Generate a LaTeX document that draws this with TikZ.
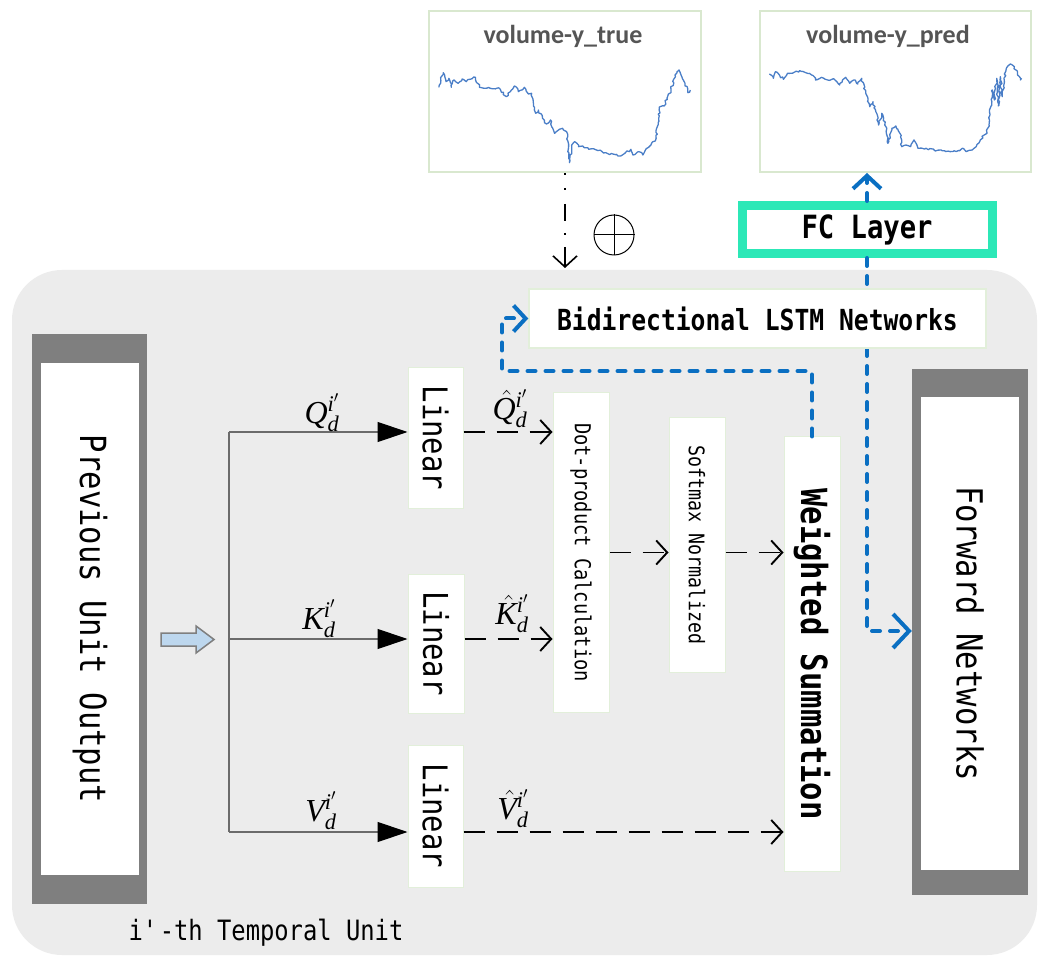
\documentclass[tikz,border=0pt]{standalone}
\usepackage{fix-cm}
\usepackage{amsmath}
\usepackage{fontspec}
\usetikzlibrary{arrows.meta,decorations.pathmorphing}

\newfontfamily\heimono[FakeStretch=0.85]{DejaVu Sans Mono}
\newfontfamily\timesf{Liberation Serif}
\newfontfamily\chartfont{Carlito}
\newcommand\tv[1]{\text{\timesf\itshape #1}}
% hatted variable whose hat does not lift the indices
\newcommand\hv[1]{\rlap{\kern2.5pt$\hat{\phantom{\tv{#1}}}$}\tv{#1}}

\definecolor{bggray}{HTML}{ECECEC}
\definecolor{boxedge}{HTML}{E2EFDA}
\definecolor{chartedge}{HTML}{D9E8CF}
\definecolor{framegray}{HTML}{7F7F7F}
\definecolor{fcgreen}{HTML}{2CE8B7}
\definecolor{flowblue}{HTML}{0A6FC2}
\definecolor{plotblue}{HTML}{4A7EC7}
\definecolor{titlegray}{HTML}{555555}
\definecolor{arrowfill}{HTML}{BDD7EE}
\definecolor{wiregray}{HTML}{6B6B6B}

\begin{document}
\begin{tikzpicture}[x=1pt,y=-1pt,
  wbox/.style={draw=boxedge, line width=1pt, fill=white, inner sep=0pt},
  chartbox/.style={draw=chartedge, line width=2pt, fill=white, inner sep=0pt},
  charttitle/.style={font={\chartfont\bfseries\fontsize{26pt}{26pt}\selectfont}, text=titlegray, inner sep=0pt},
  mono/.style={font={\heimono\fontsize{#1}{#1}\selectfont}},
  monob/.style={font={\heimono\bfseries\fontsize{#1}{#1}\selectfont}},
  varlabel/.style={inner sep=0pt, font={\fontsize{32pt}{32pt}\selectfont}},
  wire/.style={draw=wiregray, line width=1.2pt},
  wirearrow/.style={wire, -{Triangle[length=30pt,width=20pt,color=black]}},
  dasharrow/.style={draw=black, line width=1.9pt, dash pattern=on 21pt off 12pt,
    -{Straight Barb[length=11pt,width=24pt]}},
  blueflow/.style={draw=flowblue, line width=4pt, line cap=round, dash pattern=on 8pt off 10pt},
  plotline/.style={draw=plotblue, line width=1.3pt, line join=round,
    decorate, decoration={random steps, segment length=2.2pt, amplitude=1.1pt}}
]
\pgfmathsetseed{7}
\useasboundingbox (0,0) rectangle (1042,957);
\fill[white] (0,0) rectangle (1042,957);

% temporal unit background
\fill[bggray, rounded corners=50pt] (12,270) rectangle (1037,955);

% the two series panels
\node[chartbox, minimum width=272pt, minimum height=161pt] (chartT) at (565,91.5) {};
\node[charttitle] (titleT) at (563,36) {volume-y\_true};
\node[chartbox, minimum width=271pt, minimum height=161pt] (chartP) at (895.5,91.5) {};
\node[charttitle] (titleP) at (888,36) {volume-y\_pred};

\begin{scope}[shift={(420pt,0pt)}, x=0.4016pt, y=-0.3333pt]
\draw[plotline] (47,262)--(58,218)--(65,245)--(72,235)--(78,262)--(85,240)--(95,250)--(105,237)--(115,245)--(125,238)--(138,232)--(148,262)--(160,265)--(175,265)--(190,265)--(200,268)--(215,290)--(225,275)--(235,258)--(245,275)--(260,262)--(270,282)--(278,280)--(288,340)--(295,330)--(305,355)--(315,372)--(325,360)--(335,400)--(345,390)--(355,385)--(365,395)--(372,488)--(378,440)--(385,425)--(395,440)--(405,438)--(420,448)--(440,450)--(460,458)--(480,462)--(500,468)--(510,460)--(525,448)--(530,465)--(545,455)--(555,465)--(565,445)--(575,435)--(588,415)--(598,320)--(608,318)--(615,295)--(625,270)--(635,225)--(645,210)--(650,225)--(660,250)--(667,278)--(673,270);
\draw[plotline] (870,222)--(880,235)--(885,215)--(895,225)--(905,238)--(915,220)--(930,218)--(945,212)--(960,218)--(975,225)--(985,240)--(1000,232)--(1015,240)--(1030,236)--(1045,255)--(1060,232)--(1070,250)--(1080,240)--(1090,252)--(1100,235)--(1110,280)--(1120,320)--(1128,305)--(1135,335)--(1142,375)--(1150,340)--(1158,370)--(1165,430)--(1175,385)--(1185,378)--(1195,400)--(1200,440)--(1210,435)--(1222,440)--(1230,420)--(1240,445)--(1260,445)--(1280,450)--(1300,452)--(1320,455)--(1340,452)--(1350,445)--(1360,455)--(1375,450)--(1385,440)--(1395,420)--(1405,405)--(1412,400)--(1418,360)--(1425,270)--(1430,300)--(1436,235)--(1440,318)--(1445,230)--(1450,290)--(1455,240)--(1460,205)--(1470,192)--(1480,200)--(1488,225)--(1495,240)--(1498,235);
\end{scope}

% true series fed into the unit
\coordinate (addin) at (565,268);
\draw[line width=1.6pt, dash pattern=on 2pt off 13pt on 2pt off 14pt on 17pt off 12pt on 2pt off 12pt on 30pt,
  -{Straight Barb[length=11pt,width=24pt]}] (chartT.south) -- (addin);
\node[circle, draw=black, line width=1pt, minimum size=40pt, inner sep=0pt] (oplus) at (614,235) {};
\draw[line width=1pt] (oplus.north) -- (oplus.south) (oplus.west) -- (oplus.east);

% fully connected output layer
\node[draw=fcgreen, line width=9pt, fill=white, minimum width=250pt, minimum height=48pt, inner sep=0pt,
  monob=32pt] (fc) at (867,229.5) {FC Layer};

% previous unit and forward networks
\node[fill=framegray, minimum width=115pt, minimum height=570pt, inner sep=0pt] (prev) at (89.5,619) {};
\node[fill=white, minimum width=98pt, minimum height=512pt, inner sep=0pt, mono=36pt] (prevtext) at (90,619)
  {\rotatebox{-90}{Previous Unit Output}};
\node[fill=framegray, minimum width=116pt, minimum height=526pt, inner sep=0pt] (fwd) at (970,632) {};
\node[fill=white, minimum width=98pt, minimum height=473pt, inner sep=0pt, mono=36pt] (fwdtext) at (970,633.5)
  {\rotatebox{-90}{Forward Networks}};

% FC layer links
\draw[blueflow, -{Straight Barb[length=13pt,width=28pt]}] (fc.north) -- (fc.north |- chartP.south);
\coordinate (turn) at (867,631);
\draw[blueflow, -{Straight Barb[length=16pt,width=34pt]}] (fc.south) -- (turn) -- (turn -| fwd.west);

% bidirectional LSTM
\node[wbox, line width=1.5pt, minimum width=457pt, minimum height=59pt, monob=29pt] (lstm) at (757.5,318.5)
  {Bidirectional LSTM Networks};

% attention blocks
\node[wbox, minimum width=55pt, minimum height=140pt, mono=34pt] (linQ) at (435.5,438) {\rotatebox{-90}{Linear}};
\node[wbox, minimum width=56pt, minimum height=139pt, mono=34pt] (linK) at (436,643.5) {\rotatebox{-90}{Linear}};
\node[wbox, minimum width=55pt, minimum height=142pt, mono=34pt] (linV) at (435.5,816) {\rotatebox{-90}{Linear}};
\node[wbox, minimum width=56pt, minimum height=319pt, mono=22pt] (dot) at (581,552.5) {\rotatebox{-90}{Dot-product Calculation}};
\node[wbox, minimum width=56pt, minimum height=254pt, mono=21.5pt] (soft) at (697,545) {\rotatebox{-90}{Softmax Normalized}};
\node[wbox, minimum width=56pt, minimum height=434pt, monob=36pt] (wsum) at (812,654) {\rotatebox{-90}{Weighted Summation}};

% input split into Q, K, V
\fill[arrowfill, draw=framegray, line width=1.5pt]
  (161,633) -- (196,633) -- (196,626) -- (214,639.5) -- (196,653) -- (196,646) -- (161,646) -- cycle;
\coordinate (qin) at (229,432);
\coordinate (kin) at (229,639);
\coordinate (vin) at (229,832);
\draw[wire] (qin) -- (vin);
\draw[wirearrow] (qin) -- (qin -| linQ.west);
\draw[wirearrow] (kin) -- (kin -| linK.west);
\draw[wirearrow] (vin) -- (vin -| linV.west);
\node[varlabel] (lq) at (322,413) {$\tv{Q}_{\tv{d}}^{\tv{i}'}$};
\node[varlabel] (lk) at (319,619) {$\tv{K}_{\tv{d}}^{\tv{i}'}$};
\node[varlabel] (lv) at (321,811) {$\tv{V}_{\tv{d}}^{\tv{i}'}$};

% projected streams
\draw[dasharrow] (qin -| linQ.east) -- (qin -| dot.west);
\draw[dasharrow] (kin -| linK.east) -- (kin -| dot.west);
\draw[dasharrow] (vin -| linV.east) -- (vin -| wsum.west);
\node[varlabel] (lqh) at (510,409) {$\hv{Q}_{\tv{d}}^{\tv{i}'}$};
\node[varlabel] (lkh) at (512,614) {$\hv{K}_{\tv{d}}^{\tv{i}'}$};
\node[varlabel] (lvh) at (513,809) {$\hv{V}_{\tv{d}}^{\tv{i}'}$};
\draw[dasharrow] (dot.east) -- (dot.east -| soft.west);
\draw[dasharrow] (dot.east -| soft.east) -- (dot.east -| wsum.west);

% weighted summation into the LSTM
\coordinate (loopc) at (502,371);
\draw[blueflow, -{Straight Barb[length=12pt,width=26pt]}] (wsum.north) |- (loopc) |- (lstm.west);

\node[mono=28pt, inner sep=0pt] (unitname) at (266,933) {i\textquotesingle-th Temporal Unit};
\end{tikzpicture}
\end{document}
